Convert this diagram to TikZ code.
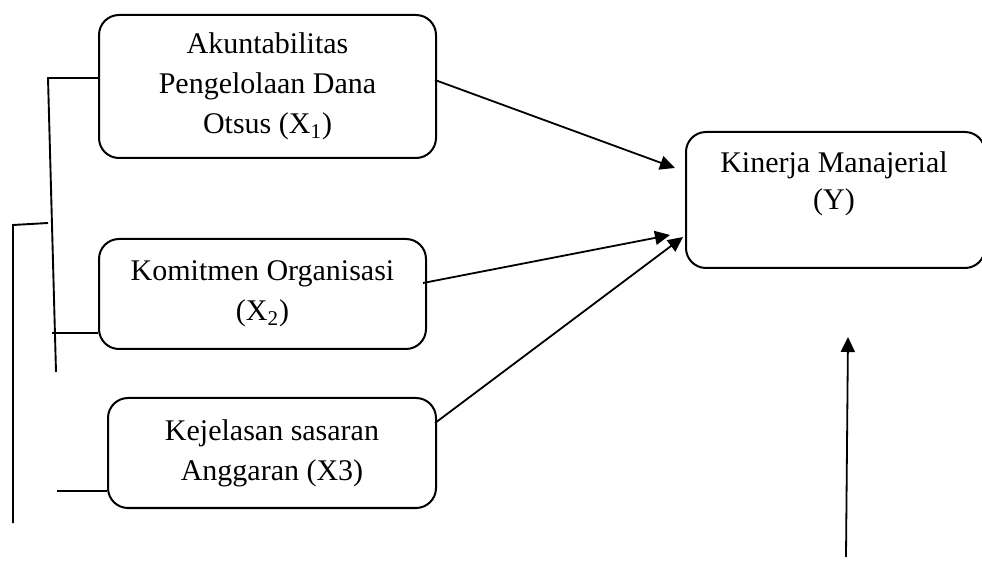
\documentclass[tikz,border=0pt]{standalone}
\usepackage{fontspec}
\setmainfont{Liberation Serif}
\usetikzlibrary{arrows.meta}
\tikzset{
  varbox/.style={draw, line width=1pt, rounded corners=10pt, anchor=north west, inner sep=0pt,
    align=center, font=\fontsize{15}{20}\selectfont},
  boxtext/.style={align=center, inner sep=0pt, font=\fontsize{15}{18.5}\selectfont},
  link/.style={line width=0.95pt},
  arr/.style={line width=0.9pt, -{Triangle[length=7.5pt,width=7pt]}}
}
\begin{document}
\begin{tikzpicture}[x=0.5pt,y=-0.5pt]
\useasboundingbox (0,0) rectangle (982,567);
% boxes
\node[varbox, minimum width=168.5pt, minimum height=71.5pt] (x1) at (98,14)
  {Akuntabilitas\\Pengelolaan Dana\\Otsus (X\textsubscript{1})};
\node[varbox, minimum width=163.5pt, minimum height=55pt] (x2) at (98,238)
  {Komitmen Organisasi\\(X\textsubscript{2})};
\node[varbox, minimum width=164pt, minimum height=55pt] (x3) at (107,397)
  {Kejelasan sasaran\\Anggaran (X3)};
\node[varbox, minimum width=149.5pt, minimum height=68pt] (y) at (685,131) {};
\node[boxtext] (ytext) at (834,184) {Kinerja Manajerial\\(Y)};
% bracket lines
\coordinate (a1) at (48,78);
\coordinate (a2) at (56,372);
\coordinate (b1) at (52,333);
\coordinate (c1) at (13,225);
\coordinate (c0) at (48,223);
\coordinate (c2) at (13,523);
\coordinate (d1) at (57,491);
\draw[link] (x1.west |- a1) -- (a1) -- (a2);
\draw[link] (b1) -- (x2.west |- b1);
\draw[link] (c0) -- (c1) -- (c2);
\draw[link] (d1) -- (x3.west |- d1);
% arrows
\coordinate (s1) at (435,80);
\coordinate (t1) at (675,168);
\coordinate (s2) at (423,283);
\coordinate (t2) at (670,235);
\coordinate (s3) at (435,423);
\coordinate (t3) at (683,237);
\coordinate (s4) at (846,557);
\coordinate (t4) at (848,337);
\draw[arr] (s1) -- (t1);
\draw[arr] (s2) -- (t2);
\draw[arr] (s3) -- (t3);
\draw[arr] (s4) -- (t4);
\end{tikzpicture}
\end{document}
